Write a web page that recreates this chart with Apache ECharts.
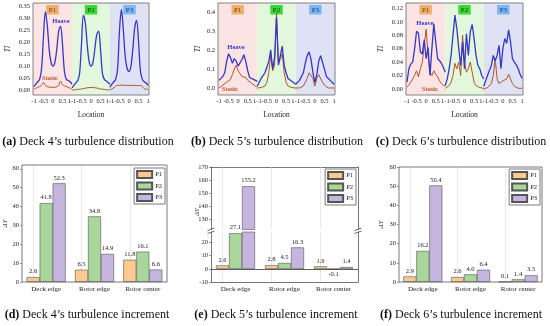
<!DOCTYPE html>
<html><head><meta charset="utf-8">
<script src="https://cdn.jsdelivr.net/npm/echarts@6/dist/echarts.min.js"></script>
<style>html,body{margin:0;padding:0;background:#fff}#c{width:550px;height:326px}</style>
</head><body><div id="c"></div>
<script>
// ---------- DATA ----------
const locations = [-1,-0.9,-0.8,-0.7,-0.6,-0.5,-0.4,-0.3,-0.2,-0.1,0,0.1,0.2,0.3,0.4,0.5,0.6,0.7,0.8,0.9,1];
const panelNames = ['P1','P2','P3'];
const locTickLabels = ['-1','-0.5','0','0.5','1'];

// Deck 4 turbulence intensity
const d4HeaveP1 = [0.015,0.025,0.035,0.045,0.09,0.22,0.325,0.27,0.17,0.115,0.10,0.115,0.17,0.245,0.265,0.19,0.08,0.045,0.04,0.035,0.025];
const d4StaticP1 = [0.003,0.008,0.012,0.015,0.02,0.032,0.02,0.015,0.013,0.012,0.012,0.012,0.015,0.02,0.038,0.022,0.018,0.015,0.012,0.008,0.003];
const d4HeaveP2 = [0.01,0.02,0.03,0.04,0.07,0.19,0.31,0.28,0.19,0.12,0.10,0.115,0.17,0.23,0.245,0.17,0.07,0.045,0.038,0.032,0.025];
const d4StaticP2 = [0.0,0.001,0.002,0.003,0.004,0.005,0.007,0.008,0.01,0.011,0.011,0.011,0.01,0.009,0.007,0.005,0.004,0.003,0.002,0.001,0.001];
const d4HeaveP3 = [0.012,0.025,0.035,0.045,0.09,0.25,0.335,0.25,0.14,0.09,0.078,0.1,0.17,0.26,0.29,0.2,0.08,0.045,0.035,0.03,0.02];
const d4StaticP3 = [0.003,0.005,0.01,0.018,0.02,0.02,0.021,0.021,0.02,0.02,0.02,0.02,0.02,0.02,0.019,0.019,0.019,0.016,0.006,0.004,0.004];
// Deck 5
const d5HeaveP1 = [0.04,0.05,0.06,0.08,0.14,0.18,0.16,0.13,0.155,0.14,0.115,0.12,0.15,0.175,0.14,0.09,0.055,0.05,0.045,0.04,0.035];
const d5StaticP1 = [0.0,0.005,0.015,0.02,0.03,0.035,0.045,0.07,0.1,0.12,0.09,0.075,0.06,0.05,0.055,0.04,0.035,0.025,0.02,0.01,0.005];
const d5HeaveP2 = [0.01,0.03,0.05,0.06,0.08,0.11,0.14,0.2,0.1,0.16,0.37,0.12,0.17,0.22,0.12,0.08,0.05,0.04,0.035,0.03,0.02];
const d5StaticP2 = [0.0,0.0,0.002,0.005,0.01,0.03,0.08,0.17,0.09,0.12,0.40,0.13,0.15,0.18,0.08,0.03,0.01,0.005,0.002,0.0,0.0];
const d5HeaveP3 = [0.02,0.03,0.04,0.05,0.08,0.13,0.17,0.19,0.15,0.08,0.03,0.07,0.14,0.17,0.16,0.1,0.06,0.05,0.04,0.03,0.02];
const d5StaticP3 = [0.0,0.0,0.0,0.003,0.01,0.03,0.05,0.08,0.09,0.05,0.01,0.05,0.07,0.06,0.03,0.015,0.005,0.0,0.0,0.0,0.0];
// Deck 6
const d6HeaveP1 = [0.01,0.03,0.037,0.04,0.06,0.086,0.083,0.055,0.052,0.073,0.045,0.062,0.02,0.06,0.097,0.07,0.045,0.042,0.038,0.032,0.025];
const d6StaticP1 = [0.003,0.006,0.01,0.015,0.02,0.027,0.018,0.03,0.04,0.065,0.089,0.05,0.025,0.02,0.027,0.022,0.018,0.012,0.008,0.005,0.005];
const d6HeaveP2 = [0.005,0.015,0.03,0.05,0.08,0.11,0.09,0.06,0.035,0.07,0.03,0.082,0.05,0.085,0.096,0.075,0.05,0.035,0.03,0.02,0.015];
const d6StaticP2 = [0.001,0.002,0.005,0.01,0.02,0.038,0.03,0.04,0.02,0.08,0.04,0.025,0.03,0.04,0.025,0.01,0.005,0.003,0.002,0.001,0.001];
const d6HeaveP3 = [0.004,0.012,0.02,0.028,0.035,0.05,0.042,0.05,0.065,0.03,0.06,0.075,0.068,0.088,0.07,0.045,0.04,0.036,0.03,0.022,0.016];
const d6StaticP3 = [0.0,0.001,0.002,0.004,0.008,0.02,0.045,0.015,0.008,0.01,0.012,0.01,0.015,0.022,0.015,0.008,0.004,0.002,0.001,0.001,0.001];

// Turbulence increments
const categories = ['Deck edge','Rotor edge','Rotor center'];
const d4IncP1 = [2.6, 6.5, 11.8];
const d4IncP2 = [41.8, 34.8, 16.1];
const d4IncP3 = [52.3, 14.9, 6.6];
const d5IncP1 = [2.6, 2.8, 1.9];
const d5IncP2 = [27.1, 4.5, -0.1];
const d5IncP3 = [155.2, 16.3, 1.4];
const d6IncP1 = [2.9, 2.6, 0.1];
const d6IncP2 = [16.2, 4.0, 1.4];
const d6IncP3 = [50.4, 6.4, 3.5];

// ---------- STYLE ----------
const SERIF = '"Liberation Serif","Times New Roman",serif';
const HEAVE_C = '#3636c9';
const STATIC_C = '#b0562c';
const BG = ['#fde4e4', '#e2f7dc', '#dfe1f5'];
const BOX = ['#efae6c', '#38d838', '#7ab6f0'];
const BOXTXT = ['#6b3d0c', '#0d3d0d', '#163a75'];
const BAR_C = ['#fcc98f', '#a9d79b', '#c5b5df'];
const TXT = '#222';

function locLabel(v) {
  const r = Math.round(v * 10) / 10;
  if (r === 1 || r === 3) return locTickLabels[4] + locTickLabels[0];
  const seg = r < 1 ? 0 : (r < 3 ? 1 : 2);
  const local = Math.round((r - 2 * seg) * 10) / 10;
  const idx = Math.round((local + 1) * 2);
  return locTickLabels[idx] !== undefined ? locTickLabels[idx] : '';
}

const grids = [], xAxes = [], yAxes = [], series = [], graphics = [];

// ---------- TOP ROW: distributions ----------
const decks = [
  {heave:[d4HeaveP1,d4HeaveP2,d4HeaveP3], stat:[d4StaticP1,d4StaticP2,d4StaticP3], smooth:0.35},
  {heave:[d5HeaveP1,d5HeaveP2,d5HeaveP3], stat:[d5StaticP1,d5StaticP2,d5StaticP3], smooth:false},
  {heave:[d6HeaveP1,d6HeaveP2,d6HeaveP3], stat:[d6StaticP1,d6StaticP2,d6StaticP3], smooth:false}
];
const topLayout = [{l:33, r:149}, {l:218, r:335}, {l:406, r:523}];
const topY = [
  {min:-0.02, max:0.362, split:8, dec:2, gap:21},
  {min:-0.037, max:0.447, split:5, dec:1, gap:16},
  {min:-0.009, max:0.128, split:7, dec:2, gap:21}
];
const XMIN = -1.05, XMAX = 5.05;

decks.forEach((dk, g) => {
  const L = topLayout[g], Y = topY[g];
  grids.push({left:L.l, width:L.r - L.l, top:3, height:92, show:true, borderColor:'#666', borderWidth:0.8, z:5, outerBoundsMode:'none'});
  xAxes.push({type:'value', gridIndex:g, min:XMIN, max:XMAX, splitNumber:12,
    axisLine:{show:false}, axisTick:{show:true, length:2, lineStyle:{color:'#555', width:0.6}},
    axisLabel:{fontSize:6.5, fontFamily:SERIF, color:TXT, margin:3, showMinLabel:false, showMaxLabel:false, formatter:locLabel},
    splitLine:{show:false},
    name:'Location', nameLocation:'middle', nameGap:16, nameTextStyle:{fontSize:7.5, fontFamily:SERIF, color:TXT}});
  yAxes.push({type:'value', gridIndex:g, min:Y.min, max:Y.max, splitNumber:Y.split,
    axisLine:{show:false}, axisTick:{show:true, length:2, lineStyle:{color:'#555', width:0.6}},
    axisLabel:{fontSize:6.5, fontFamily:SERIF, color:TXT, margin:3, showMinLabel:false, showMaxLabel:false, formatter:v => v.toFixed(Y.dec)},
    splitLine:{show:false},
    name:'TI', nameLocation:'middle', nameGap:Y.gap, nameTextStyle:{fontSize:7.5, fontFamily:SERIF, fontStyle:'italic', color:TXT}});
  for (let p = 0; p < 3; p++) {
    const s = {type:'line', name:'Static', xAxisIndex:g, yAxisIndex:g, silent:true, showSymbol:false, smooth:dk.smooth,
      data: locations.map((x, k) => [x + 2 * p, dk.stat[p][k]]),
      lineStyle:{color:STATIC_C, width:1}, z:3};
    if (p === 0) {
      s.markArea = {silent:true, z:1,
        label:{show:true, position:'insideTop', distance:2, fontSize:7, fontFamily:SERIF, padding:[1.5,2.5,1,2.5]},
        data: panelNames.map((nm, i) => [
          {name:nm, xAxis: i === 0 ? XMIN : 2 * i - 1, itemStyle:{color:BG[i]},
           label:{backgroundColor:BOX[i], color:BOXTXT[i]}},
          {xAxis: i === 2 ? XMAX : 2 * i + 1}
        ])};
    }
    series.push(s);
    series.push({type:'line', name:'Heave', xAxisIndex:g, yAxisIndex:g, silent:true, showSymbol:false, smooth:dk.smooth,
      data: locations.map((x, k) => [x + 2 * p, dk.heave[p][k]]),
      lineStyle:{color:HEAVE_C, width:1.3}, z:4});
  }
});

// annotations Heave / Static
const annot = [
  {t:'Heave', x:61, y:21, c:HEAVE_C}, {t:'Static', x:50, y:78, c:STATIC_C},
  {t:'Heave', x:236, y:47, c:HEAVE_C}, {t:'Static', x:230, y:89, c:STATIC_C},
  {t:'Heave', x:425, y:23, c:HEAVE_C}, {t:'Static', x:430, y:89, c:STATIC_C}
];
annot.forEach(a => graphics.push({type:'text', z:20, style:{text:a.t, x:a.x, y:a.y, fill:a.c,
  font:'bold 6.5px ' + SERIF, align:'center', verticalAlign:'middle'}}));

// ---------- BOTTOM ROW: increments ----------
function catX(gi, opts) {
  return Object.assign({type:'category', gridIndex:gi, data:categories,
    axisLine:{show:false}, axisTick:{show:false},
    axisLabel:{fontSize:7, fontFamily:SERIF, color:TXT, margin:4},
    splitLine:{show:false}}, opts || {});
}
function valY(gi, opts) {
  return Object.assign({type:'value', gridIndex:gi,
    axisLine:{show:false}, axisTick:{show:true, length:2, lineStyle:{color:'#555', width:0.6}},
    axisLabel:{fontSize:6.5, fontFamily:SERIF, color:TXT, margin:3},
    splitLine:{show:false}}, opts || {});
}
function addBars(vals, xi, yi, show, extra) {
  vals.forEach((arr, i) => {
    const s = {type:'bar', name:panelNames[i], xAxisIndex:xi, yAxisIndex:yi, silent:true,
      barWidth:13, barGap:'0%', z:2,
      data: arr.map(v => v < 0 ? {value:v, label:{position:'bottom'}} : v),
      itemStyle:{color:BAR_C[i], borderColor:'#555', borderWidth:0.6},
      label:{show:true, position:'top', distance:2, fontSize:6.5, fontFamily:SERIF, color:TXT,
        formatter: p => show(p.value) ? p.value.toFixed(1) : ''}};
    if (i === 0) {
      s.markLine = {silent:true, symbol:['none','none'], z:1, label:{show:false},
        lineStyle:{color:'#dadada', width:0.6, type:'solid'},
        data: categories.map(c => ({xAxis:c}))};
    }
    if (i === 1 && extra) s.markLine = extra;
    series.push(s);
  });
}

// (d) grid 3
grids.push({left:22, width:145, top:165, height:117, show:true, borderColor:'#555', borderWidth:0.8, z:5, outerBoundsMode:'none'});
xAxes.push(catX(3));
yAxes.push(valY(3, {min:0, max:62, splitNumber:6, axisLabel:{fontSize:6.5, fontFamily:SERIF, color:TXT, margin:3, showMaxLabel:false},
  name:'ΔY', nameLocation:'middle', nameGap:13, nameTextStyle:{fontSize:7, fontFamily:SERIF, fontStyle:'italic', color:TXT}}));
addBars([d4IncP1, d4IncP2, d4IncP3], 3, 3, v => true);

// (e) grids 4 (upper) and 5 (lower)
const EL = 211, ER = 358;
grids.push({left:EL, width:ER - EL, top:167, height:62.5, show:false, outerBoundsMode:'none'});
grids.push({left:EL, width:ER - EL, top:232, height:50, show:false, outerBoundsMode:'none'});
const frameLine = {show:true, onZero:false, lineStyle:{color:'#555', width:0.8}};
xAxes.push(catX(4, {position:'top', axisLine:frameLine, axisLabel:{show:false}}));
xAxes.push(catX(5, {position:'bottom', axisLine:frameLine}));
yAxes.push(valY(4, {min:122, max:170, splitNumber:5, axisLine:frameLine,
  axisLabel:{fontSize:6.5, fontFamily:SERIF, color:TXT, margin:3, showMinLabel:false}}));
yAxes.push(valY(5, {min:-10, max:28, splitNumber:4, axisLine:frameLine,
  axisLabel:{fontSize:6.5, fontFamily:SERIF, color:TXT, margin:3, showMaxLabel:false}}));

// (f) grid 6
grids.push({left:399, width:143, top:167, height:115, show:true, borderColor:'#555', borderWidth:0.8, z:5, outerBoundsMode:'none'});
xAxes.push(catX(6));
yAxes.push(valY(6, {min:0, max:60, interval:10,
  name:'ΔY', nameLocation:'middle', nameGap:14, nameTextStyle:{fontSize:7, fontFamily:SERIF, fontStyle:'italic', color:TXT}}));

// right frame lines for (e)
yAxes.push(valY(4, {position:'right', min:122, max:170, axisLine:frameLine, axisTick:{show:false}, axisLabel:{show:false}}));
yAxes.push(valY(5, {position:'right', min:-10, max:28, axisLine:frameLine, axisTick:{show:false}, axisLabel:{show:false}}));

addBars([d5IncP1, d5IncP2, d5IncP3], 4, 4, v => v >= 122);
addBars([d5IncP1, d5IncP2, d5IncP3], 5, 5, v => v < 28, {silent:true, symbol:['none','none'], z:3, label:{show:false},
  lineStyle:{color:'#333', width:0.8, type:'solid'}, data:[{yAxis:0}]});
addBars([d6IncP1, d6IncP2, d6IncP3], 6, 6, v => true);

// break marks for (e)
[EL, ER].forEach(x => [229.3, 232.3].forEach(y => graphics.push({type:'line', z:20,
  shape:{x1:x - 3.5, y1:y + 1.3, x2:x + 3.5, y2:y - 1.3}, style:{stroke:'#444', lineWidth:0.8}})));
graphics.push({type:'text', z:20, x:197, y:212, rotation:Math.PI / 2,
  style:{text:'ΔY', x:0, y:0, fill:TXT, font:'italic 7px ' + SERIF, align:'center', verticalAlign:'middle'}});

// legends
const legendBase = {orient:'vertical', align:'left', data:panelNames, selectedMode:false, icon:'rect',
  itemWidth:15, itemHeight:7, itemGap:2.5, padding:[2,3,2,2], borderColor:'#555', borderWidth:0.8,
  backgroundColor:'#fff', textStyle:{fontSize:6.5, fontFamily:SERIF, color:TXT, padding:[0,0,0,-2]}, z:10};
const legends = [
  Object.assign({}, legendBase, {right:385, top:168}),
  Object.assign({}, legendBase, {right:194, top:169}),
  Object.assign({}, legendBase, {right:10, top:169})
];

// captions
const captions = [
  {lab:'(a)', t:' Deck 4’s turbulence distribution', x:88, y:142},
  {lab:'(b)', t:' Deck 5’s turbulence distribution', x:277, y:142},
  {lab:'(c)', t:' Deck 6’s turbulence distribution', x:461, y:142},
  {lab:'(d)', t:' Deck 4’s turbulence increment', x:87, y:315},
  {lab:'(e)', t:' Deck 5’s turbulence increment', x:276, y:315},
  {lab:'(f)', t:' Deck 6’s turbulence increment', x:461, y:315}
];
captions.forEach(c => graphics.push({type:'text', z:20, style:{
  text:'{b|' + c.lab + '}{n|' + c.t + '}', x:c.x, y:c.y, align:'center', verticalAlign:'middle',
  rich:{b:{fontWeight:'bold', fontSize:12, fontFamily:SERIF, fill:'#111'}, n:{fontSize:12, fontFamily:SERIF, fill:'#111'}}}}));

const chart = echarts.init(document.getElementById('c'));
chart.setOption({
  animation:false,
  backgroundColor:'#fff',
  grid:grids, xAxis:xAxes, yAxis:yAxes, series:series, legend:legends, graphic:graphics,
  tooltip:{show:false}
});
</script>
</body></html>
